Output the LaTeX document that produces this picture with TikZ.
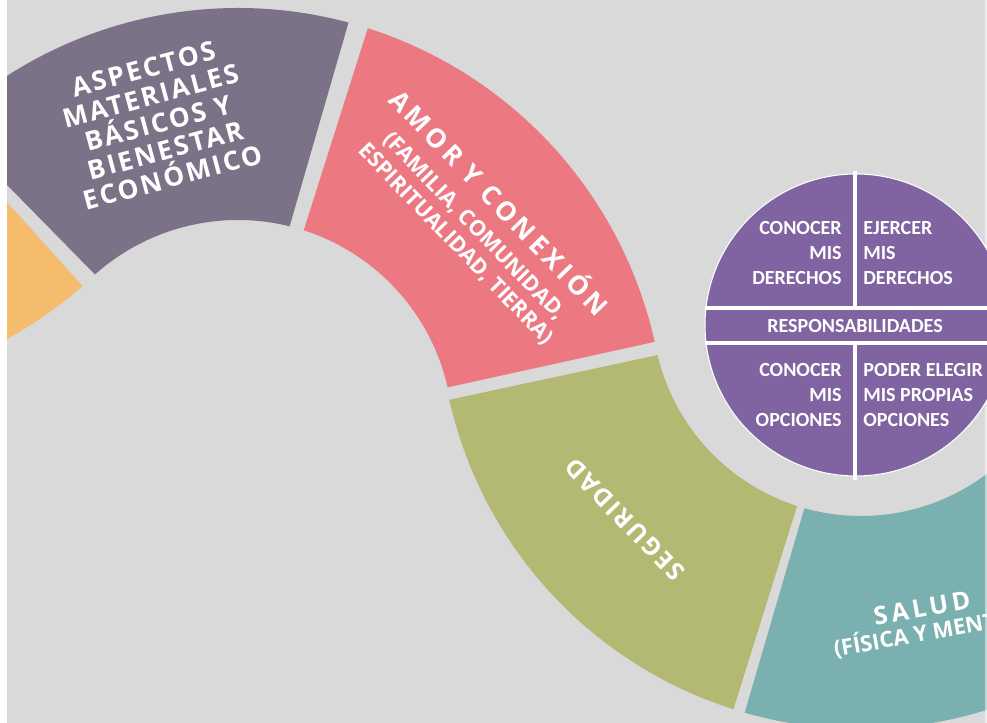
\documentclass[tikz,border=0pt]{standalone}
\usepackage{fontspec}
\usepackage{tikz}
\usetikzlibrary{calc}
\newfontfamily\fuenteespaciada{Open Sans}[LetterSpace=9]
\newfontfamily\fuenteancha{Open Sans}[LetterSpace=15]
\newfontfamily\fuenteanillo{Open Sans}
\newfontfamily\fuentecirculo{Carlito}

\definecolor{fondo}{RGB}{217,217,217}
\definecolor{naranja}{RGB}{244,188,108}
\definecolor{grismorado}{RGB}{123,114,135}
\definecolor{rosa}{RGB}{236,121,130}
\definecolor{oliva}{RGB}{179,185,114}
\definecolor{verdeazul}{RGB}{122,176,175}
\definecolor{morado}{RGB}{128,100,162}

\tikzset{
  texto anillo/.style={text=white, align=center, inner sep=0pt},
  texto circulo/.style={text=white, inner sep=0pt,
    font=\fuentecirculo\bfseries\fontsize{11.4}{14}\selectfont},
  raya/.style={white, line width=2.3pt},
}

\begin{document}
\begin{tikzpicture}[x=0.02cm, y=0.02cm]
  \useasboundingbox (0,0) rectangle (987,723);
  \clip (0,0) rectangle (987,723);
  \fill[fondo] (0,0) rectangle (987,723);

  % Centros de los arcos
  \coordinate (c0) at (-196,754);
  \coordinate (c1) at (238,288);
  \coordinate (c2) at (861,416);
  \coordinate (cc) at (856,398);

  % Segmentos de la onda
  \foreach \cen/\ri/\ro/\ia/\ib/\oa/\ob/\col in {
      c0/209/422/-49.4/-100/-48.7/-100/naranja,
      c1/215/427/131.7/76.1/133.1/75.0/grismorado,
      c1/215/427/72.2/12.8/72.3/12.6/rosa,
      c2/209/422/193.3/252.2/192.7/252.4/oliva,
      c2/209/422/254.3/330/254.0/330/verdeazul}
    \fill[\col] ([shift={(\ia:\ri)}]\cen) arc[start angle=\ia, end angle=\ib, radius=\ri]
      -- ([shift={(\ob:\ro)}]\cen) arc[start angle=\ob, end angle=\oa, radius=\ro] -- cycle;

  % Bordes
  \fill[white] (0,0) rectangle (7,723);
  \fill[white, opacity=0.5] (985,0) rectangle (987,723);

  % Textos de la onda
  \node[texto anillo, rotate=15, font=\fuenteespaciada\bfseries\fontsize{15}{16}\selectfont]
    (materiales) at ([shift={(104.4:322)}]c1)
    {ASPECTOS\\MATERIALES\\BÁSICOS Y\\BIENESTAR\\ECONÓMICO};
  \node[texto anillo, rotate=-46, font=\fuenteanillo\bfseries\fontsize{12.3}{14.6}\selectfont]
    (amor) at ([shift={(41.5:322)}]c1)
    {{\fuenteancha\bfseries\fontsize{15}{16}\selectfont AMOR Y CONEXIÓN}\\[3pt]
     (FAMILIA, COMUNIDAD,\\ESPIRITUALIDAD, TIERRA)};
  \node[texto anillo, rotate=134, font=\fuenteespaciada\bfseries\fontsize{14}{16}\selectfont]
    (seguridad) at ([shift={(222:318)}]c2) {SEGURIDAD};
  \node[texto anillo, rotate=10, font=\fuenteancha\bfseries\fontsize{14.3}{16}\selectfont]
    (salud) at (922,115) {SALUD};
  \node[texto anillo, rotate=10, anchor=base west, font=\fuenteanillo\bfseries\fontsize{12.5}{14}\selectfont]
    (fisica) at (835,66) {(FÍSICA Y MENT};

  % Circulo central
  \fill[morado, draw=white, line width=0.6pt] (cc) circle (151);
  \begin{scope}
    \clip (cc) circle (152);
    \draw[raya] (700,415) -- (1010,415);
    \draw[raya] (700,380) -- (1010,380);
  \end{scope}
  \draw[raya] (855,552) -- (855,415);
  \draw[raya] (855,380) -- (855,243);

  \node[texto circulo, align=right, anchor=east] (conocerder) at (842,470) {CONOCER\\MIS\\DERECHOS};
  \node[texto circulo, align=left, anchor=west] (ejercer) at (863,470) {EJERCER\\MIS\\DERECHOS};
  \node[texto circulo] (resp) at (855,397) {RESPONSABILIDADES};
  \node[texto circulo, align=right, anchor=east] (conoceropc) at (842,328) {CONOCER\\MIS\\OPCIONES};
  \node[texto circulo, align=left, anchor=west] (poder) at (863,328) {PODER ELEGIR\\MIS PROPIAS\\OPCIONES};
\end{tikzpicture}
\end{document}
